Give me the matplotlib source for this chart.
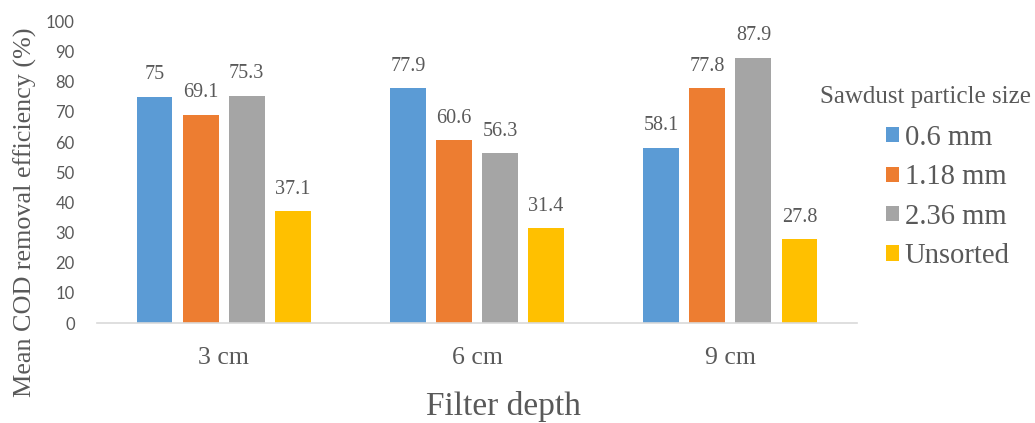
import matplotlib

matplotlib.use("Agg")

import matplotlib.pyplot as plt
import numpy as np
from matplotlib.patches import Patch

depths = ["3 cm", "6 cm", "9 cm"]
sizes = ["0.6 mm", "1.18 mm", "2.36 mm", "Unsorted"]
cod_06 = [75, 77.9, 58.1]
cod_118 = [69.1, 60.6, 77.8]
cod_236 = [75.3, 56.3, 87.9]
cod_unsorted = [37.1, 31.4, 27.8]

COLORS = ["#5B9BD5", "#ED7D31", "#A5A5A5", "#FFC000"]
INK = "#595959"
SERIF = "Liberation Serif"
W, H = 1035, 423

fig = plt.figure(figsize=(W / 100, H / 100), dpi=100)
ax = fig.add_axes([97 / W, 1 - 323 / H, 760 / W, 301.5 / H])

x = np.arange(len(depths))
width = 0.142
step = 0.182
series = [cod_06, cod_118, cod_236, cod_unsorted]
for i, (vals, col) in enumerate(zip(series, COLORS)):
    bars = ax.bar(x + (i - 1.5) * step, vals, width=width, color=col)
    ax.bar_label(bars, labels=[f"{v:g}" for v in vals], padding=9,
                 fontsize=14.5, color=INK, family=SERIF)

ax.set_xlim(-0.5, 2.5)
ax.set_ylim(0, 100)
ax.set_yticks(range(0, 101, 10))
ax.set_xticks(x)
ax.set_xticklabels(depths, fontsize=18.5, color=INK, family=SERIF)
for lbl in ax.get_yticklabels():
    lbl.set_family("Lato")
    lbl.set_fontsize(12)
    lbl.set_color(INK)
ax.tick_params(axis="both", length=0)
ax.tick_params(axis="x", pad=17)
ax.tick_params(axis="y", pad=16)

for s in ("top", "right", "left"):
    ax.spines[s].set_visible(False)
ax.spines["bottom"].set_color("#D9D9D9")
ax.spines["bottom"].set_linewidth(1.2)

# axis titles placed in figure pixels
fig.text(25 / W, 1 - 212 / H, "Mean COD removal efficiency (%)", fontsize=18.8,
         color=INK, family=SERIF, rotation=90, ha="center", va="center")
fig.text(503 / W, 1 - 406 / H, "Filter depth", fontsize=24, color=INK,
         family=SERIF, ha="center", va="center")

# legend: title as its own text, entries below it
fig.text(925 / W, 1 - 97 / H, "Sawdust particle size", fontsize=18, color=INK,
         family=SERIF, ha="center", va="center")
handles = [Patch(facecolor=c, edgecolor="none") for c in COLORS]
leg = fig.legend(handles, sizes, loc="upper left",
                 bbox_to_anchor=(886 / W, 1 - 125 / H),
                 frameon=False, borderpad=0, borderaxespad=0,
                 prop={"family": SERIF, "size": 20.6},
                 handlelength=0.45, handleheight=0.45, handletextpad=0.2,
                 labelspacing=0.47)
for t in leg.get_texts():
    t.set_color(INK)

fig.savefig("out.png", dpi=100, facecolor="white")
